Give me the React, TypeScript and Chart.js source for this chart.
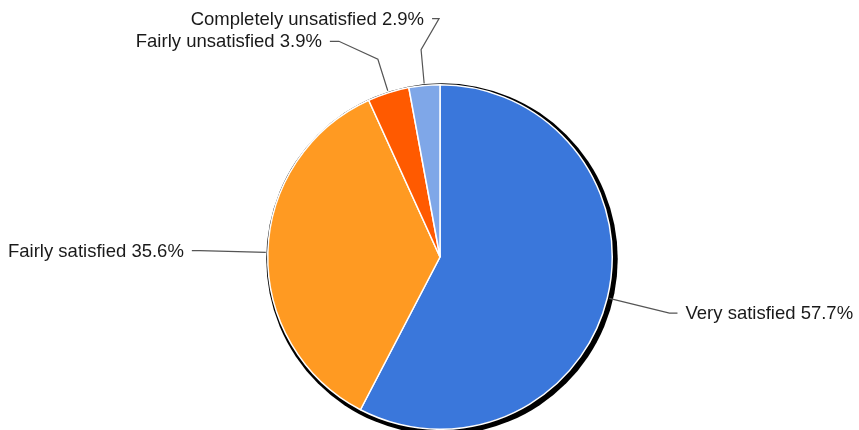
import React, { useEffect, useRef } from "react";
import { Chart, registerables } from "chart.js";

Chart.register(...registerables);

const categories = ["Very satisfied", "Fairly satisfied", "Fairly unsatisfied", "Completely unsatisfied"];
const values = [57.7, 35.6, 3.9, 2.9];
const colors = ["#3a77db", "#ff9a22", "#ff5a00", "#7fa7e8"];

// label leader layout (style/positioning, not data)
const labelLayout = [
  { ext: 62, dx: 0, dy: 0, stub: 8 },
  { ext: 66, dx: 0, dy: 0, stub: -8 },
  { ext: 33, dx: -39, dy: -18, stub: -9 },
  { ext: 34, dx: 18, dy: -31, stub: -7 },
];

const FONT = '18.5px "Liberation Sans", Arial, sans-serif';

const shadowPlugin = {
  id: "pieShadow",
  beforeDatasetsDraw(chart: any) {
    const meta = chart.getDatasetMeta(0);
    const arc = meta.data[0];
    if (!arc) return;
    const { x, y, outerRadius } = arc.getProps(["x", "y", "outerRadius"], true);
    const ctx = chart.ctx;
    ctx.save();
    ctx.beginPath();
    ctx.arc(x + 2, y + 2, outerRadius + 3.5, 0, Math.PI * 2);
    ctx.fillStyle = "#000";
    ctx.fill();
    ctx.restore();
  },
};

const labelPlugin = {
  id: "pieLabels",
  afterDatasetsDraw(chart: any) {
    const meta = chart.getDatasetMeta(0);
    const ctx = chart.ctx;
    ctx.save();
    ctx.font = FONT;
    ctx.textBaseline = "middle";
    meta.data.forEach((arc: any, i: number) => {
      const p = arc.getProps(["x", "y", "startAngle", "endAngle", "outerRadius"], true);
      const mid = (p.startAngle + p.endAngle) / 2;
      const L = labelLayout[i];
      const r0 = p.outerRadius + 2;
      const ax = p.x + Math.cos(mid) * r0;
      const ay = p.y + Math.sin(mid) * r0;
      const ex = p.x + Math.cos(mid) * (r0 + L.ext);
      const ey = p.y + Math.sin(mid) * (r0 + L.ext);
      const kx = ex + L.dx;
      const ky = ey + L.dy;
      const sx = kx + L.stub;
      ctx.beginPath();
      ctx.moveTo(ax, ay);
      ctx.lineTo(ex, ey);
      ctx.lineTo(kx, ky);
      ctx.lineTo(sx, ky);
      ctx.strokeStyle = "#555555";
      ctx.lineWidth = 1.2;
      ctx.stroke();
      const text = `${categories[i]} ${values[i]}%`;
      ctx.fillStyle = "#1a1a1a";
      if (L.stub >= 0) {
        ctx.textAlign = "left";
        ctx.fillText(text, sx + 8, ky + 1);
      } else {
        ctx.textAlign = "right";
        ctx.fillText(text, sx - 8, ky + 1);
      }
    });
    ctx.restore();
  },
};

export default function App() {
  const ref = useRef<HTMLCanvasElement | null>(null);
  useEffect(() => {
    document.body.style.margin = "0";
    const chart = new Chart(ref.current as HTMLCanvasElement, {
      type: "pie",
      data: {
        labels: categories,
        datasets: [
          {
            data: values,
            backgroundColor: colors,
            borderColor: "#ffffff",
            borderWidth: 1.5,
          },
        ],
      },
      options: {
        animation: false,
        responsive: false,
        layout: { padding: { top: 84, bottom: 0, left: 21, right: 0 } },
        plugins: { legend: { display: false }, tooltip: { enabled: false } },
      },
      plugins: [shadowPlugin, labelPlugin],
    });
    return () => chart.destroy();
  }, []);
  return (
    <div style={{ width: 859, height: 430, background: "#fff" }}>
      <canvas ref={ref} width={859} height={430} style={{ display: "block" }} />
    </div>
  );
}
